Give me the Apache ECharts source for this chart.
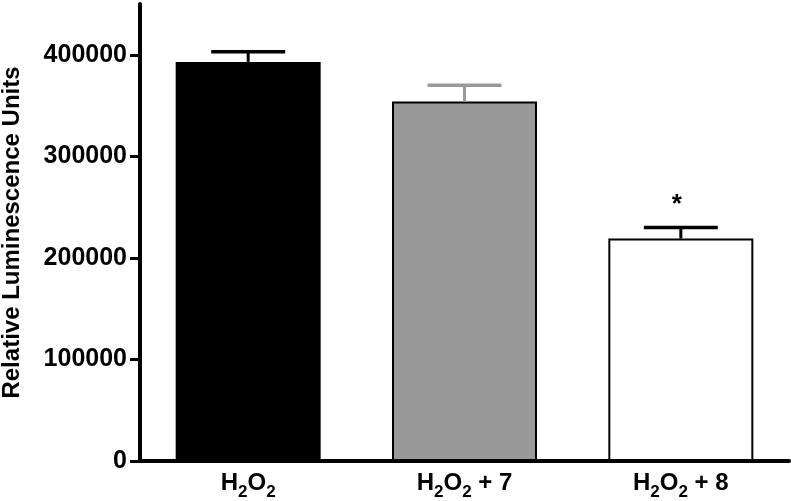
<!DOCTYPE html>
<html>
<head>
<meta charset="utf-8">
<script src="https://cdn.jsdelivr.net/npm/echarts@6/dist/echarts.min.js"></script>
<style>html,body{margin:0;padding:0;background:#fff}#c{width:791px;height:501px}</style>
</head>
<body>
<div id="c"></div>
<script>
var categories = ['H2O2', 'H2O2 + 7', 'H2O2 + 8'];
var means = [393000, 354000, 219000];
var errors = [10000, 16000, 11000];
var significance = ['', '', '*'];
var yTicks = [0, 100000, 200000, 300000, 400000];
var barFill = ['#000000', '#999999', '#ffffff'];
var errColor = ['#000000', '#999999', '#000000'];

var chart = echarts.init(document.getElementById('c'));
var font = '"Liberation Sans", Arial, sans-serif';

function catLabel(v) {
  var rest = v.replace('H2O2', '');
  return '{b|H}{s|2}{b|O}{s|2}' + (rest ? '{b|' + rest + '}' : '');
}

chart.setOption({
  animation: false,
  grid: { left: 140, right: 2, top: 4, bottom: 40, containLabel: false, outerBoundsMode: 'none' },
  xAxis: {
    type: 'category',
    data: categories,
    axisLine: { lineStyle: { color: '#000', width: 4 } },
    axisTick: { show: false },
    axisLabel: {
      margin: 8,
      formatter: catLabel,
      rich: {
        b: { fontFamily: font, fontWeight: 'bold', fontSize: 24, color: '#000', verticalAlign: 'bottom', lineHeight: 26 },
        s: { fontFamily: font, fontWeight: 'bold', fontSize: 17, color: '#000', verticalAlign: 'bottom', lineHeight: 26, padding: [0, 0, -6, 0] }
      }
    }
  },
  yAxis: {
    type: 'value',
    min: 0,
    max: 450000,
    interval: 100000,
    name: 'Relative Luminescence Units',
    nameLocation: 'middle',
    nameGap: 116,
    nameRotate: 90,
    nameTextStyle: { fontFamily: font, fontWeight: 'bold', fontSize: 24, color: '#000' },
    axisLine: { show: true, lineStyle: { color: '#000', width: 4 } },
    axisTick: { show: true, length: 10, customValues: yTicks, lineStyle: { color: '#000', width: 3 } },
    axisLabel: {
      customValues: yTicks, margin: 13, fontFamily: font, fontWeight: 'bold', fontSize: 25, color: '#000',
      formatter: function (v) { return String(v); }
    },
    splitLine: { show: false }
  },
  series: [
    {
      type: 'bar',
      barWidth: 145,
      data: means.map(function (v, i) {
        return { value: v, itemStyle: { color: barFill[i], borderColor: '#000', borderWidth: i === 0 ? 0 : 2 } };
      }),
      z: 2
    },
    {
      type: 'custom',
      z: 3,
      data: means.map(function (v, i) { return [i, v, errors[i]]; }),
      renderItem: function (params, api) {
        var i = api.value(0);
        var base = api.coord([i, api.value(1)]);
        var top = api.coord([i, api.value(1) + api.value(2)]);
        var half = 37;
        var col = errColor[i];
        var children = [
          { type: 'line', shape: { x1: base[0], y1: base[1], x2: top[0], y2: top[1] }, style: { stroke: col, lineWidth: 3 } },
          { type: 'line', shape: { x1: top[0] - half, y1: top[1], x2: top[0] + half, y2: top[1] }, style: { stroke: col, lineWidth: 3.5 } }
        ];
        if (significance[i]) {
          children.push({ type: 'text', style: { text: significance[i], x: top[0] - 4, y: top[1] - 10, align: 'center', verticalAlign: 'bottom', font: 'bold 26px ' + font, fill: '#000' } });
        }
        return { type: 'group', children: children };
      }
    }
  ]
});
</script>
</body>
</html>
